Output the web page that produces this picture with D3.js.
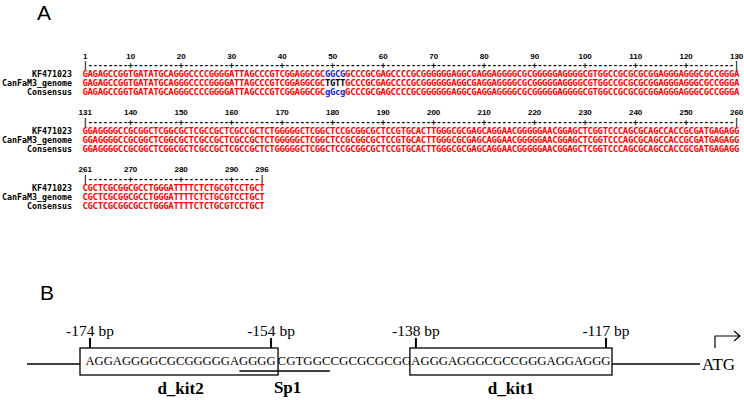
<!DOCTYPE html>
<html><head><meta charset="utf-8">
<script src="https://cdn.jsdelivr.net/npm/d3@7/dist/d3.min.js"></script>
<style>body{margin:0;background:#fff}svg{display:block}</style>
</head><body>
<script>
// ---------- Panel A data ----------
const seqNames = ["KF471023", "CanFaM3_genome", "Consensus"];
const seqKF   = "GAGAGCCGGTGATATGCAGGGCCCCGGGGATTAGCCCGTCGGAGGCGC" + "GGCG" + "GCCCG" +
  "CGAGCCCCGCGGGGGGAGGCGAGGAGGGGCGCGGGGGAGGGGCGTGGCCGCGCGCGGAGGGAGGGCGCCGGGA" +
  "GGAGGGGCCGCGGCTCGGCGCTCGCCGCTCGCCGCTCTGGGGGCTCGGCTCCGCGGCGC" +
  "TCCGTGCACTTGGGCGCGAGCAGGAACGGGGGAACGGAGCTCGGTCCCAGCGCAGCCACCGCGATGAGAGG" +
  "CGCTCGCGGCGCCTGGGATTTTCTCTGCGTCCTGCT";
const seqCan  = seqKF.slice(0, 48) + "TGTT" + seqKF.slice(52);
const seqCons = seqKF.slice(0, 48) + "gGcg" + seqKF.slice(52);
const rowSeqs = [seqKF, seqCan, seqCons];
const blockStarts = [1, 131, 261];
const blockEnds   = [130, 260, 296];
const tickLabels = [
  [1, 10, 20, 30, 40, 50, 60, 70, 80, 90, 100, 110, 120, 130],
  [131, 140, 150, 160, 170, 180, 190, 200, 210, 220, 230, 240, 250, 260],
  [261, 270, 280, 290, 296]
];
const blueKF   = [49, 50, 51, 52];
const blackCan = [49, 50, 51, 52];
const blueCons = [49, 50, 51, 52];

// ---------- Panel B data ----------
const chunkSeqs = [
  {start: -174, seq: "AGGAGGGGCGCGGGGGAGGGG"},
  {start: -153, seq: "CGTGGCCGCGCGCGG"},
  {start: -138, seq: "AGGGAGGGCGCCGGGAGGAGGG"}
];
const bpTicks = [-174, -154, -138, -117];
const bpTickLabels = ["-174 bp", "-154 bp", "-138 bp", "-117 bp"];
const boxes = [
  {name: "d_kit2", from: -174, to: -154},
  {name: "d_kit1", from: -138, to: -117}
];
const sp1 = {name: "Sp1", from: -157.5, to: -147.5};

// ---------- Drawing ----------
const W = 744, H = 400;
const svg = d3.select("body").append("svg").attr("width", W).attr("height", H);

svg.append("text").attr("x", 37).attr("y", 20).text("A")
  .attr("font-family", "Liberation Sans, Arial, sans-serif").attr("font-size", 21);
svg.append("text").attr("x", 40).attr("y", 300).text("B")
  .attr("font-family", "Liberation Sans, Arial, sans-serif").attr("font-size", 21);

const x = d3.scaleLinear().domain([1, 130]).range([85.2, 85.2 + 129 * 5.05]);
const yBlock = d3.scaleLinear().domain([0, 2]).range([0, 113.5]);
const mono = "DejaVu Sans Mono, Liberation Mono, monospace";

blockStarts.forEach((bs, b) => {
  const g = svg.append("g").attr("transform", `translate(0,${yBlock(b)})`);
  const be = blockEnds[b];
  const posList = d3.range(bs, be + 1);
  g.selectAll("text.num").data(tickLabels[b]).join("text")
    .attr("x", d => x(d - bs + 1)).attr("y", 56)
    .attr("text-anchor", "middle").attr("dominant-baseline", "central")
    .attr("font-family", "Liberation Sans, Arial, sans-serif").attr("font-weight", "bold")
    .attr("font-size", 8).text(d => d);
  g.selectAll("text.rul").data(posList).join("text")
    .attr("x", d => x(d - bs + 1)).attr("y", 65)
    .attr("text-anchor", "middle").attr("dominant-baseline", "central")
    .attr("font-family", mono).attr("font-weight", "bold").attr("font-size", 8.5)
    .text(d => (d === bs || d === be) ? "|" : (d % 10 === 0 ? "+" : "-"));
  rowSeqs.forEach((s, r) => {
    const yy = 74 + r * 9;
    g.append("text").attr("x", 72).attr("y", yy).attr("text-anchor", "end")
      .attr("dominant-baseline", "central").attr("font-family", mono)
      .attr("font-weight", "bold").attr("font-size", 8.3).text(seqNames[r]);
    g.selectAll("text.c" + r).data(posList).join("text")
      .attr("x", d => x(d - bs + 1)).attr("y", yy)
      .attr("text-anchor", "middle").attr("dominant-baseline", "central")
      .attr("font-family", mono).attr("font-weight", "bold").attr("font-size", 9)
      .attr("fill", d => {
        if (r === 0 && blueKF.includes(d)) return "#2222ee";
        if (r === 1 && blackCan.includes(d)) return "#000";
        if (r === 2 && blueCons.includes(d)) return "#2222ee";
        return "#ff0000";
      })
      .text(d => s[d - 1]);
  });
});

// Panel B
const bp = d3.scaleLinear().domain([-174, -117]).range([90, 606]);
const serif = "Liberation Serif, Times New Roman, serif";
const lineY = 364, boxTop = 348, boxBot = 375;

svg.append("line").attr("x1", 27).attr("x2", bp(-174) - 10).attr("y1", lineY).attr("y2", lineY)
  .attr("stroke", "#000").attr("stroke-width", 1.3);
svg.append("line").attr("x1", bp(-117) + 6).attr("x2", 700).attr("y1", lineY).attr("y2", lineY)
  .attr("stroke", "#000").attr("stroke-width", 1.3);

const boxPad = [[10, 7], [6, 6]];
svg.selectAll("rect.box").data(boxes).join("rect")
  .attr("x", (d, i) => bp(d.from) - boxPad[i][0])
  .attr("width", (d, i) => bp(d.to) + boxPad[i][1] - bp(d.from) + boxPad[i][0])
  .attr("y", boxTop).attr("height", boxBot - boxTop)
  .attr("fill", "none").attr("stroke", "#000").attr("stroke-width", 1.3);

const step = bp(1) - bp(0);
svg.selectAll("text.chunk").data(chunkSeqs).join("text")
  .attr("x", d => bp(d.start) - step / 2 + (d.start === -153 ? 2 : 0))
  .attr("y", 361).attr("dominant-baseline", "central")
  .attr("font-family", serif).attr("font-size", 12.5)
  .attr("textLength", d => d.seq.length * step - (d.start === -153 ? 2 : 0))
  .attr("lengthAdjust", "spacingAndGlyphs")
  .text(d => d.seq);

svg.selectAll("line.tk").data(bpTicks).join("line")
  .attr("x1", d => bp(d)).attr("x2", d => bp(d)).attr("y1", 338).attr("y2", boxTop)
  .attr("stroke", "#000").attr("stroke-width", 2);
svg.selectAll("text.tkl").data(bpTicks).join("text")
  .attr("x", d => bp(d)).attr("y", 330).attr("text-anchor", "middle")
  .attr("dominant-baseline", "central").attr("font-family", serif).attr("font-size", 15.5)
  .text((d, i) => bpTickLabels[i]);

svg.append("line").attr("x1", bp(sp1.from)).attr("x2", bp(sp1.to)).attr("y1", 371).attr("y2", 371)
  .attr("stroke", "#000").attr("stroke-width", 1.3);
svg.append("text").attr("x", bp((sp1.from + sp1.to) / 2) + 3).attr("y", 387)
  .attr("text-anchor", "middle").attr("dominant-baseline", "central")
  .attr("font-family", serif).attr("font-weight", "bold").attr("font-size", 17).text(sp1.name);
svg.selectAll("text.bn").data(boxes).join("text")
  .attr("x", d => bp((d.from + d.to) / 2)).attr("y", 388)
  .attr("text-anchor", "middle").attr("dominant-baseline", "central")
  .attr("font-family", serif).attr("font-weight", "bold").attr("font-size", 17).text(d => d.name);

svg.append("text").attr("x", 702).attr("y", 364).attr("dominant-baseline", "central")
  .attr("font-family", serif).attr("font-size", 17).text("ATG");
svg.append("path").attr("d", "M715,348 V336 H740 M734,331 L740,336 L734,341")
  .attr("fill", "none").attr("stroke", "#000").attr("stroke-width", 1.2);
</script>
</body></html>
